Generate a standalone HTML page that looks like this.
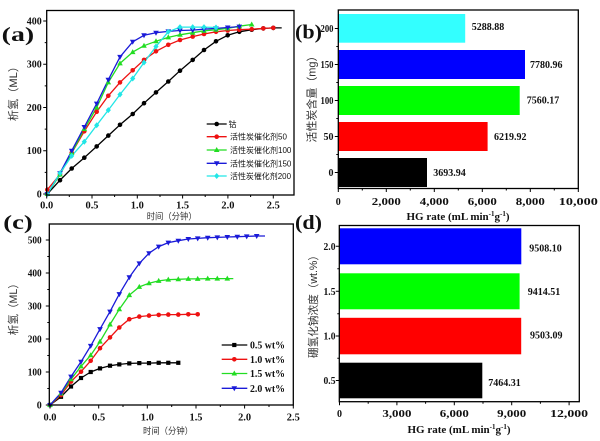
<!DOCTYPE html>
<html><head><meta charset="utf-8"><style>
html,body{margin:0;padding:0;background:#fff;}
svg{display:block;}
.t{font-family:"Liberation Serif",serif;font-weight:bold;font-size:10px;fill:#111;}
.cj{font-family:"Liberation Sans","Noto Sans CJK SC",sans-serif;fill:#333;}
</style></head><body>
<svg width="600" height="441" viewBox="0 0 600 441" xmlns="http://www.w3.org/2000/svg">
<defs>
<circle id="mc" r="2.3"/>
<rect id="ms" x="-2.1" y="-2.1" width="4.2" height="4.2"/>
<polygon id="mu" points="0,-3 2.8,2 -2.8,2"/>
<polygon id="md" points="0,3 2.8,-2 -2.8,-2"/>
<polygon id="mq" points="0,-3 2.6,0 0,3 -2.6,0"/>
</defs>
<rect width="600" height="441" fill="#fff"/>

<!-- ============ PANEL A ============ -->
<g fill="none" stroke-width="1.3" stroke-linejoin="round">
<polyline stroke="#000" points="47.3,194 60,180.2 71.7,168.5 84.3,157.7 96.7,146.4 108.3,135.6 120,124.8 132.7,114 144,103.2 156,92.4 168.3,81.5 180,70.7 192.7,59.9 204,50 216,41.3 227.7,35.3 239.3,31.8 251.7,29.7 263.3,28.4 273.3,27.9 281.7,27.9"/>
<polyline stroke="#ee1111" points="47.3,189.7 60,174.5 71.7,152.9 84.3,131.3 96.7,111.8 108.3,95.8 120,82.4 132.7,70.3 144,59.9 156,51.3 168.3,44.8 180,40 192.7,36.6 204,34 216,31.8 227.7,30.5 239.3,29.7 251.7,29.2 263.3,28.4 273.3,27.9"/>
<polyline stroke="#22dd22" points="47.3,194 60,174.5 71.7,152.9 84.3,129.1 96.7,107.5 108.3,82.4 120,63.4 132.7,52.1 144,45.7 156,41.3 168.3,37.4 180,34.8 192.7,32.7 204,30.9 216,29.7 227.7,28.4 239.3,26.2 251.7,24.5"/>
<polyline stroke="#1a1ad8" points="47.3,194 60,173.2 71.7,150.8 84.3,127 96.7,103.6 108.3,79.8 120,56.9 132.7,41.8 144,35.3 156,32.7 168.3,31.4 180,30.5 192.7,30.1 204,29.2 216,28.4 227.7,27.5 239.3,26.6"/>
<polyline stroke="#22e6e6" points="47.3,194 60,173.2 71.7,155.9 84.3,141.7 96.7,125.2 108.3,110.1 120,94.5 132.7,78.5 144,62.5 156,46.5 168.3,31.8 180,27.1 192.7,27.1 204,27.1 216,27.5"/>
</g>
<g fill="#000">
<use href="#mc" x="47.3" y="194"/><use href="#mc" x="60" y="180.2"/><use href="#mc" x="71.7" y="168.5"/><use href="#mc" x="84.3" y="157.7"/><use href="#mc" x="96.7" y="146.4"/><use href="#mc" x="108.3" y="135.6"/><use href="#mc" x="120" y="124.8"/><use href="#mc" x="132.7" y="114"/><use href="#mc" x="144" y="103.2"/><use href="#mc" x="156" y="92.4"/><use href="#mc" x="168.3" y="81.5"/><use href="#mc" x="180" y="70.7"/><use href="#mc" x="192.7" y="59.9"/><use href="#mc" x="204" y="50"/><use href="#mc" x="216" y="41.3"/><use href="#mc" x="227.7" y="35.3"/><use href="#mc" x="239.3" y="31.8"/><use href="#mc" x="251.7" y="29.7"/><use href="#mc" x="263.3" y="28.4"/><use href="#mc" x="273.3" y="27.9"/>
</g>
<g fill="#ee1111">
<use href="#mc" x="47.3" y="189.7"/><use href="#mc" x="60" y="174.5"/><use href="#mc" x="71.7" y="152.9"/><use href="#mc" x="84.3" y="131.3"/><use href="#mc" x="96.7" y="111.8"/><use href="#mc" x="108.3" y="95.8"/><use href="#mc" x="120" y="82.4"/><use href="#mc" x="132.7" y="70.3"/><use href="#mc" x="144" y="59.9"/><use href="#mc" x="156" y="51.3"/><use href="#mc" x="168.3" y="44.8"/><use href="#mc" x="180" y="40"/><use href="#mc" x="192.7" y="36.6"/><use href="#mc" x="204" y="34"/><use href="#mc" x="216" y="31.8"/><use href="#mc" x="227.7" y="30.5"/><use href="#mc" x="239.3" y="29.7"/><use href="#mc" x="251.7" y="29.2"/><use href="#mc" x="263.3" y="28.4"/><use href="#mc" x="273.3" y="27.9"/>
</g>
<g fill="#22dd22">
<use href="#mu" x="47.3" y="194"/><use href="#mu" x="60" y="174.5"/><use href="#mu" x="71.7" y="152.9"/><use href="#mu" x="84.3" y="129.1"/><use href="#mu" x="96.7" y="107.5"/><use href="#mu" x="108.3" y="82.4"/><use href="#mu" x="120" y="63.4"/><use href="#mu" x="132.7" y="52.1"/><use href="#mu" x="144" y="45.7"/><use href="#mu" x="156" y="41.3"/><use href="#mu" x="168.3" y="37.4"/><use href="#mu" x="180" y="34.8"/><use href="#mu" x="192.7" y="32.7"/><use href="#mu" x="204" y="30.9"/><use href="#mu" x="216" y="29.7"/><use href="#mu" x="227.7" y="28.4"/><use href="#mu" x="239.3" y="26.2"/><use href="#mu" x="251.7" y="24.5"/>
</g>
<g fill="#1a1ad8">
<use href="#md" x="47.3" y="194"/><use href="#md" x="60" y="173.2"/><use href="#md" x="71.7" y="150.8"/><use href="#md" x="84.3" y="127"/><use href="#md" x="96.7" y="103.6"/><use href="#md" x="108.3" y="79.8"/><use href="#md" x="120" y="56.9"/><use href="#md" x="132.7" y="41.8"/><use href="#md" x="144" y="35.3"/><use href="#md" x="156" y="32.7"/><use href="#md" x="168.3" y="31.4"/><use href="#md" x="180" y="30.5"/><use href="#md" x="192.7" y="30.1"/><use href="#md" x="204" y="29.2"/><use href="#md" x="216" y="28.4"/><use href="#md" x="227.7" y="27.5"/><use href="#md" x="239.3" y="26.6"/>
</g>
<g fill="#22e6e6">
<use href="#mq" x="47.3" y="194"/><use href="#mq" x="60" y="173.2"/><use href="#mq" x="71.7" y="155.9"/><use href="#mq" x="84.3" y="141.7"/><use href="#mq" x="96.7" y="125.2"/><use href="#mq" x="108.3" y="110.1"/><use href="#mq" x="120" y="94.5"/><use href="#mq" x="132.7" y="78.5"/><use href="#mq" x="144" y="62.5"/><use href="#mq" x="156" y="46.5"/><use href="#mq" x="168.3" y="31.8"/><use href="#mq" x="180" y="27.1"/><use href="#mq" x="192.7" y="27.1"/><use href="#mq" x="204" y="27.1"/><use href="#mq" x="216" y="27.5"/>
</g>
<!-- legend a -->
<g stroke-width="1.3">
<line x1="206.7" y1="124" x2="226.7" y2="124" stroke="#000"/>
<line x1="206.7" y1="136.7" x2="226.7" y2="136.7" stroke="#ee1111"/>
<line x1="206.7" y1="150" x2="226.7" y2="150" stroke="#22dd22"/>
<line x1="206.7" y1="163.3" x2="226.7" y2="163.3" stroke="#1a1ad8"/>
<line x1="206.7" y1="176" x2="226.7" y2="176" stroke="#22e6e6"/>
</g>
<use href="#mc" x="216.7" y="124" fill="#000"/>
<use href="#mc" x="216.7" y="136.7" fill="#ee1111"/>
<use href="#mu" x="216.7" y="150" fill="#22dd22"/>
<use href="#md" x="216.7" y="163.3" fill="#1a1ad8"/>
<use href="#mq" x="216.7" y="176" fill="#22e6e6"/>
<g class="cj" font-size="8" style="fill:#111">
<text x="228.5" y="127">钴</text>
<text x="230" y="139.7">活性炭催化剂50</text>
<text x="230" y="153">活性炭催化剂100</text>
<text x="230" y="166.3">活性炭催化剂150</text>
<text x="230" y="179" textLength="61" lengthAdjust="spacingAndGlyphs">活性炭催化剂200</text>
</g>
<!-- frame a -->
<rect x="46.7" y="10.5" width="247.3" height="184.5" fill="none" stroke="#000" stroke-width="1.3"/>
<g stroke="#000" stroke-width="1">
<path d="M46.7,195V198.5M92,195V198.5M137.3,195V198.5M182.6,195V198.5M227.9,195V198.5M273.3,195V198.5"/>
<path d="M69.3,195V197M114.6,195V197M160,195V197M205.2,195V197M250.6,195V197"/>
<path d="M46.7,194H43.2M46.7,150.75H43.2M46.7,107.5H43.2M46.7,64.25H43.2M46.7,21H43.2"/>
<path d="M46.7,172.4H44.7M46.7,129.1H44.7M46.7,85.9H44.7M46.7,42.6H44.7"/>
</g>
<g class="t" text-anchor="end">
<text x="41.7" y="197.5">0</text>
<text x="41.7" y="154.2" textLength="15" lengthAdjust="spacingAndGlyphs">100</text>
<text x="41.7" y="111" textLength="15" lengthAdjust="spacingAndGlyphs">200</text>
<text x="41.7" y="67.7" textLength="15" lengthAdjust="spacingAndGlyphs">300</text>
<text x="41.7" y="24.5" textLength="15" lengthAdjust="spacingAndGlyphs">400</text>
</g>
<g class="t" text-anchor="middle">
<text x="46.7" y="208.5" textLength="13" lengthAdjust="spacingAndGlyphs">0.0</text>
<text x="92" y="208.5" textLength="13" lengthAdjust="spacingAndGlyphs">0.5</text>
<text x="137.3" y="208.5" textLength="13" lengthAdjust="spacingAndGlyphs">1.0</text>
<text x="182.6" y="208.5" textLength="13" lengthAdjust="spacingAndGlyphs">1.5</text>
<text x="227.9" y="208.5" textLength="13" lengthAdjust="spacingAndGlyphs">2.0</text>
<text x="273.3" y="208.5" textLength="13" lengthAdjust="spacingAndGlyphs">2.5</text>
</g>
<text class="cj" x="171.7" y="219.5" font-size="9" text-anchor="middle" textLength="50" lengthAdjust="spacingAndGlyphs">时间（分钟）</text>
<text class="cj" font-size="11" text-anchor="middle" transform="translate(17,91) rotate(-90)" textLength="60" lengthAdjust="spacingAndGlyphs">析氢（ML）</text>
<text class="t" x="1.7" y="41" style="font-size:20px" textLength="32.5" lengthAdjust="spacingAndGlyphs">(a)</text>

<!-- ============ PANEL B ============ -->
<rect x="338.3" y="14" width="126.9" height="28.7" fill="#33ffff"/>
<rect x="338.3" y="50" width="186.7" height="29" fill="#0000ff"/>
<rect x="338.3" y="86" width="181.4" height="29" fill="#00ff00"/>
<rect x="338.3" y="122" width="149.3" height="29" fill="#ff0000"/>
<rect x="338.3" y="158" width="88.7" height="29" fill="#000"/>
<rect x="338.3" y="10" width="240" height="178.5" fill="none" stroke="#000" stroke-width="1.3"/>
<g stroke="#000" stroke-width="1">
<path d="M338.3,188.5V192M386.3,188.5V192M434.3,188.5V192M482.3,188.5V192M530.3,188.5V192M578.3,188.5V192"/>
<path d="M362.3,188.5V190.5M410.3,188.5V190.5M458.3,188.5V190.5M506.3,188.5V190.5M554.3,188.5V190.5"/>
<path d="M338.3,172.5H334.8M338.3,136.5H334.8M338.3,100.5H334.8M338.3,64.5H334.8M338.3,28.5H334.8"/>
<path d="M338.3,154.5H336.3M338.3,118.5H336.3M338.3,82.5H336.3M338.3,46.5H336.3"/>
</g>
<g class="t" text-anchor="end">
<text x="333.5" y="176">0</text>
<text x="333.5" y="140">50</text>
<text x="333.5" y="104" textLength="13" lengthAdjust="spacingAndGlyphs">100</text>
<text x="333.5" y="68" textLength="13" lengthAdjust="spacingAndGlyphs">150</text>
<text x="333.5" y="32" textLength="13" lengthAdjust="spacingAndGlyphs">200</text>
</g>
<g class="t" text-anchor="middle">
<text x="338.3" y="205.2">0</text>
<text x="386.3" y="205.2" textLength="29" lengthAdjust="spacingAndGlyphs">2,000</text>
<text x="434.3" y="205.2" textLength="29" lengthAdjust="spacingAndGlyphs">4,000</text>
<text x="482.3" y="205.2" textLength="29" lengthAdjust="spacingAndGlyphs">6,000</text>
<text x="530.3" y="205.2" textLength="29" lengthAdjust="spacingAndGlyphs">8,000</text>
<text x="578.3" y="205.2" textLength="39" lengthAdjust="spacingAndGlyphs">10,000</text>
</g>
<g class="t">
<text x="471.7" y="30.2">5288.88</text>
<text x="530" y="67.8">7780.96</text>
<text x="526.7" y="103.5">7560.17</text>
<text x="494" y="140.2">6219.92</text>
<text x="433.3" y="175.8">3693.94</text>
</g>
<text class="t" x="458" y="219.8" style="font-size:11px" text-anchor="middle">HG rate (mL min<tspan style="font-size:7px" dy="-4">-1</tspan><tspan dy="4">g</tspan><tspan style="font-size:7px" dy="-4">-1</tspan><tspan dy="4">)</tspan></text>
<text class="cj" font-size="11" text-anchor="middle" transform="translate(315.5,96.5) rotate(-90)" textLength="92" lengthAdjust="spacingAndGlyphs">活性炭含量（mg）</text>
<text class="t" x="295" y="38.5" style="font-size:20px" textLength="27" lengthAdjust="spacingAndGlyphs">(b)</text>

<!-- ============ PANEL C ============ -->
<g fill="none" stroke-width="1.3" stroke-linejoin="round">
<polyline stroke="#000" points="50,405 61,396.8 71,386.5 81,378 90.7,372 100,368.4 110,365.7 119.3,364.4 129.3,363.4 139.3,363.1 149,363.1 158.7,362.8 168.3,362.8 178.3,362.8 180,362.8"/>
<polyline stroke="#ee1111" points="50,405 61,395.1 71,381.6 81,371.7 90.7,360.8 100,348.2 110,337.4 119.3,327.5 129.3,319.2 139.3,316.6 149,315.6 158.7,314.9 168.3,314.6 178.3,314.6 188.3,314.3 197.7,314.3 199.3,314.3"/>
<polyline stroke="#22dd22" points="50,405 61,393.5 71,379.3 81,366.4 90.7,355.2 100,341.6 110,324.5 119.3,309.3 129.3,295.1 139.3,286.9 149,283.2 158.7,280.9 168.3,279.6 178.3,279.3 188.3,278.9 197.7,278.9 207.7,278.6 217.3,278.6 227.3,278.6 233.3,278.6"/>
<polyline stroke="#1a1ad8" points="50,405 61,392.8 71,376.6 81,361.8 90.7,345.9 100,329.1 110,311.6 119.3,294.1 129.3,277.3 139.3,263.4 149,253.2 158.7,246.6 168.3,242.6 178.3,240.7 188.3,239 197.7,238.4 207.7,237.7 217.3,237.4 227.3,237 237.3,236.7 246.7,236.4 256.7,236 265,236"/>
</g>
<g fill="#000">
<use href="#ms" x="50" y="405"/><use href="#ms" x="61" y="396.8"/><use href="#ms" x="71" y="386.5"/><use href="#ms" x="81" y="378"/><use href="#ms" x="90.7" y="372"/><use href="#ms" x="100" y="368.4"/><use href="#ms" x="110" y="365.7"/><use href="#ms" x="119.3" y="364.4"/><use href="#ms" x="129.3" y="363.4"/><use href="#ms" x="139.3" y="363.1"/><use href="#ms" x="149" y="363.1"/><use href="#ms" x="158.7" y="362.8"/><use href="#ms" x="168.3" y="362.8"/><use href="#ms" x="178.3" y="362.8"/>
</g>
<g fill="#ee1111">
<use href="#mc" x="50" y="405"/><use href="#mc" x="61" y="395.1"/><use href="#mc" x="71" y="381.6"/><use href="#mc" x="81" y="371.7"/><use href="#mc" x="90.7" y="360.8"/><use href="#mc" x="100" y="348.2"/><use href="#mc" x="110" y="337.4"/><use href="#mc" x="119.3" y="327.5"/><use href="#mc" x="129.3" y="319.2"/><use href="#mc" x="139.3" y="316.6"/><use href="#mc" x="149" y="315.6"/><use href="#mc" x="158.7" y="314.9"/><use href="#mc" x="168.3" y="314.6"/><use href="#mc" x="178.3" y="314.6"/><use href="#mc" x="188.3" y="314.3"/><use href="#mc" x="197.7" y="314.3"/>
</g>
<g fill="#22dd22">
<use href="#mu" x="50" y="405"/><use href="#mu" x="61" y="393.5"/><use href="#mu" x="71" y="379.3"/><use href="#mu" x="81" y="366.4"/><use href="#mu" x="90.7" y="355.2"/><use href="#mu" x="100" y="341.6"/><use href="#mu" x="110" y="324.5"/><use href="#mu" x="119.3" y="309.3"/><use href="#mu" x="129.3" y="295.1"/><use href="#mu" x="139.3" y="286.9"/><use href="#mu" x="149" y="283.2"/><use href="#mu" x="158.7" y="280.9"/><use href="#mu" x="168.3" y="279.6"/><use href="#mu" x="178.3" y="279.3"/><use href="#mu" x="188.3" y="278.9"/><use href="#mu" x="197.7" y="278.9"/><use href="#mu" x="207.7" y="278.6"/><use href="#mu" x="217.3" y="278.6"/><use href="#mu" x="227.3" y="278.6"/>
</g>
<g fill="#1a1ad8">
<use href="#md" x="50" y="405"/><use href="#md" x="61" y="392.8"/><use href="#md" x="71" y="376.6"/><use href="#md" x="81" y="361.8"/><use href="#md" x="90.7" y="345.9"/><use href="#md" x="100" y="329.1"/><use href="#md" x="110" y="311.6"/><use href="#md" x="119.3" y="294.1"/><use href="#md" x="129.3" y="277.3"/><use href="#md" x="139.3" y="263.4"/><use href="#md" x="149" y="253.2"/><use href="#md" x="158.7" y="246.6"/><use href="#md" x="168.3" y="242.6"/><use href="#md" x="178.3" y="240.7"/><use href="#md" x="188.3" y="239"/><use href="#md" x="197.7" y="238.4"/><use href="#md" x="207.7" y="237.7"/><use href="#md" x="217.3" y="237.4"/><use href="#md" x="227.3" y="237"/><use href="#md" x="237.3" y="236.7"/><use href="#md" x="246.7" y="236.4"/><use href="#md" x="256.7" y="236"/>
</g>
<!-- legend c -->
<g stroke-width="1.3">
<line x1="221.7" y1="345" x2="247.3" y2="345" stroke="#000"/>
<line x1="221.7" y1="359.3" x2="247.3" y2="359.3" stroke="#ee1111"/>
<line x1="221.7" y1="373.5" x2="247.3" y2="373.5" stroke="#22dd22"/>
<line x1="221.7" y1="388.3" x2="247.3" y2="388.3" stroke="#1a1ad8"/>
</g>
<use href="#ms" x="234.3" y="345" fill="#000"/>
<use href="#mc" x="234.3" y="359.3" fill="#ee1111"/>
<use href="#mu" x="234.3" y="373.5" fill="#22dd22"/>
<use href="#md" x="234.3" y="388.3" fill="#1a1ad8"/>
<g class="t">
<text x="250" y="348.5" textLength="35" lengthAdjust="spacingAndGlyphs">0.5 wt%</text>
<text x="250" y="362.8" textLength="35" lengthAdjust="spacingAndGlyphs">1.0 wt%</text>
<text x="250" y="377" textLength="35" lengthAdjust="spacingAndGlyphs">1.5 wt%</text>
<text x="250" y="391.8" textLength="35" lengthAdjust="spacingAndGlyphs">2.0 wt%</text>
</g>
<rect x="49.3" y="224" width="244" height="181" fill="none" stroke="#000" stroke-width="1.3"/>
<g stroke="#000" stroke-width="1">
<path d="M50,405V408.5M98.7,405V408.5M147.3,405V408.5M196,405V408.5M244.6,405V408.5M293.3,405V408.5"/>
<path d="M74.3,405V407M123,405V407M171.7,405V407M220.3,405V407M269,405V407"/>
<path d="M49.3,405H45.8M49.3,372H45.8M49.3,339H45.8M49.3,306H45.8M49.3,273H45.8M49.3,240H45.8"/>
<path d="M49.3,388.5H47.3M49.3,355.5H47.3M49.3,322.5H47.3M49.3,289.5H47.3M49.3,256.5H47.3"/>
</g>
<g class="t" text-anchor="end">
<text x="41.7" y="408.5">0</text>
<text x="41.7" y="375.5" textLength="14" lengthAdjust="spacingAndGlyphs">100</text>
<text x="41.7" y="342.5" textLength="14" lengthAdjust="spacingAndGlyphs">200</text>
<text x="41.7" y="309.5" textLength="14" lengthAdjust="spacingAndGlyphs">300</text>
<text x="41.7" y="276.5" textLength="14" lengthAdjust="spacingAndGlyphs">400</text>
<text x="41.7" y="243.5" textLength="14" lengthAdjust="spacingAndGlyphs">500</text>
</g>
<g class="t" text-anchor="middle">
<text x="50" y="420.7" textLength="13" lengthAdjust="spacingAndGlyphs">0.0</text>
<text x="98.7" y="420.7" textLength="13" lengthAdjust="spacingAndGlyphs">0.5</text>
<text x="147.3" y="420.7" textLength="13" lengthAdjust="spacingAndGlyphs">1.0</text>
<text x="196" y="420.7" textLength="13" lengthAdjust="spacingAndGlyphs">1.5</text>
<text x="244.6" y="420.7" textLength="13" lengthAdjust="spacingAndGlyphs">2.0</text>
<text x="293.3" y="420.7" textLength="13" lengthAdjust="spacingAndGlyphs">2.5</text>
</g>
<text class="cj" x="168" y="434" font-size="9" text-anchor="middle" textLength="50" lengthAdjust="spacingAndGlyphs">时间（分钟）</text>
<text class="cj" font-size="11" text-anchor="middle" transform="translate(17,306.7) rotate(-90)" textLength="57" lengthAdjust="spacingAndGlyphs">析氢（ML）</text>
<text class="t" x="3.3" y="229" style="font-size:20px" textLength="29.4" lengthAdjust="spacingAndGlyphs">(c)</text>

<!-- ============ PANEL D ============ -->
<rect x="339.5" y="228.3" width="181.8" height="36" fill="#0000ff"/>
<rect x="339.5" y="273.3" width="180.1" height="36" fill="#00ff00"/>
<rect x="339.5" y="317.8" width="181.7" height="36.5" fill="#ff0000"/>
<rect x="339.5" y="362.7" width="142.8" height="35.6" fill="#000"/>
<rect x="339.3" y="225.5" width="240" height="176.2" fill="none" stroke="#000" stroke-width="1.3"/>
<g stroke="#000" stroke-width="1">
<path d="M339.5,401.7V405.2M396.9,401.7V405.2M454.3,401.7V405.2M511.7,401.7V405.2M569.1,401.7V405.2"/>
<path d="M368.2,401.7V403.7M425.6,401.7V403.7M483,401.7V403.7M540.4,401.7V403.7"/>
<path d="M339.3,246.3H335.8M339.3,291.3H335.8M339.3,336H335.8M339.3,380.5H335.8"/>
<path d="M339.3,268.8H337.3M339.3,313.7H337.3M339.3,358.3H337.3"/>
</g>
<g class="t" text-anchor="end">
<text x="335.5" y="249.8" textLength="12" lengthAdjust="spacingAndGlyphs">2.0</text>
<text x="335.5" y="294.8" textLength="12" lengthAdjust="spacingAndGlyphs">1.5</text>
<text x="335.5" y="339.5" textLength="12" lengthAdjust="spacingAndGlyphs">1.0</text>
<text x="335.5" y="384" textLength="12" lengthAdjust="spacingAndGlyphs">0.5</text>
</g>
<g class="t" text-anchor="middle">
<text x="339.5" y="416.8">0</text>
<text x="396.9" y="416.8" textLength="29" lengthAdjust="spacingAndGlyphs">3,000</text>
<text x="454.3" y="416.8" textLength="29" lengthAdjust="spacingAndGlyphs">6,000</text>
<text x="511.7" y="416.8" textLength="29" lengthAdjust="spacingAndGlyphs">9,000</text>
<text x="569.1" y="416.8" textLength="38" lengthAdjust="spacingAndGlyphs">12,000</text>
</g>
<g class="t">
<text x="529.3" y="251.5">9508.10</text>
<text x="527.7" y="295.2">9414.51</text>
<text x="530" y="338.5">9503.09</text>
<text x="488.3" y="386.2">7464.31</text>
</g>
<text class="t" x="459" y="432.8" style="font-size:11px" text-anchor="middle">HG rate (mL min<tspan style="font-size:7px" dy="-4">-1</tspan><tspan dy="4">g</tspan><tspan style="font-size:7px" dy="-4">-1</tspan><tspan dy="4">)</tspan></text>
<text class="cj" font-size="11" text-anchor="middle" transform="translate(317,304) rotate(-90)" textLength="108" lengthAdjust="spacingAndGlyphs">硼氢化钠浓度（wt.%）</text>
<text class="t" x="295" y="229" style="font-size:20px" textLength="27" lengthAdjust="spacingAndGlyphs">(d)</text>
</svg>
</body></html>
